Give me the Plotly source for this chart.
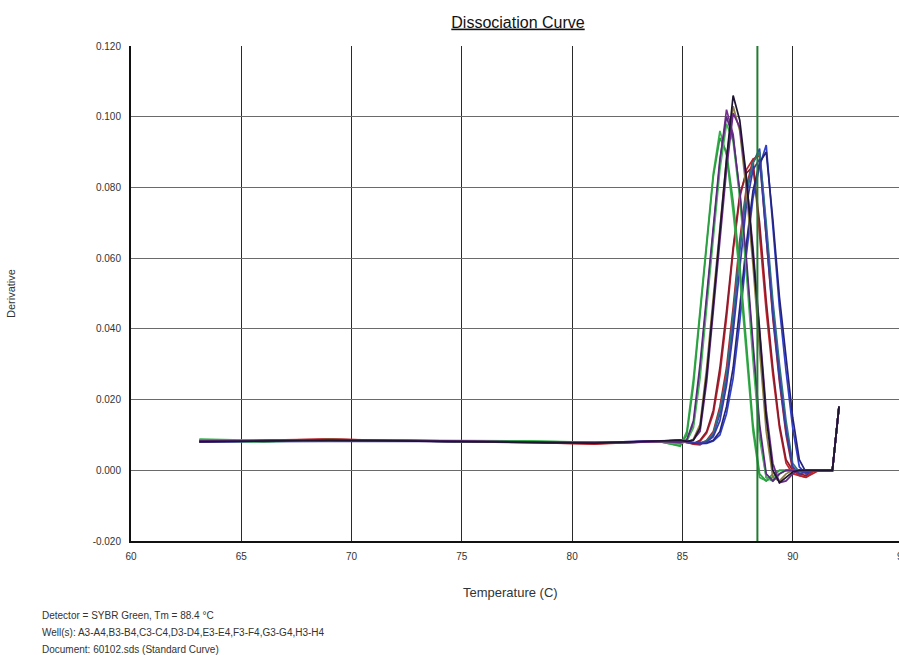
import plotly.graph_objects as go

# ---------------- data ----------------
temps_base = [63.1, 66.0, 69.0, 72.0, 75.0, 78.0, 81.0, 84.0]
temps_melt = [84.9, 85.2, 85.5, 85.8, 86.1, 86.4, 86.7, 87.0, 87.3, 87.6,
              87.9, 88.2, 88.5, 88.8, 89.1, 89.4, 89.7, 90.0, 90.3, 90.6,
              90.9, 91.2, 91.5, 91.8, 92.1]
temperature = temps_base + temps_melt

wells = ["E3", "E4", "F3", "F4", "G3", "G4", "H3", "H4",
         "A3", "A4", "B3", "B4", "C3", "D3", "D4", "C4"]

a3 = [0.0088, 0.0084, 0.0086, 0.0085, 0.0082, 0.0083, 0.0079, 0.0081,
      0.0068, 0.011, 0.026, 0.046, 0.066, 0.084, 0.096, 0.089, 0.073, 0.055,
      0.033, 0.011, -0.002, -0.003, -0.001, 0.0, 0.0, 0.0, 0.0, 0.0,
      0.0, 0.0, 0.0, 0.0, 0.018]
a4 = [0.0086, 0.0082, 0.0087, 0.0083, 0.0081, 0.0081, 0.0078, 0.0080,
      0.0070, 0.010, 0.024, 0.044, 0.064, 0.083, 0.094, 0.090, 0.076, 0.058,
      0.036, 0.013, -0.001, -0.003, -0.002, 0.0, 0.0, 0.0, 0.0, 0.0,
      0.0, 0.0, 0.0, 0.0, 0.018]
b3 = [0.0082, 0.0084, 0.0085, 0.0084, 0.0083, 0.0080, 0.0077, 0.0082,
      0.0080, 0.0085, 0.013, 0.028, 0.048, 0.068, 0.087, 0.102, 0.095, 0.078,
      0.058, 0.034, 0.011, -0.002, -0.003, -0.001, 0.0, 0.0, 0.0, 0.0,
      0.0, 0.0, 0.0, 0.0, 0.018]
b4 = [0.0085, 0.0080, 0.0086, 0.0086, 0.0082, 0.0082, 0.0079, 0.0080,
      0.0075, 0.0082, 0.012, 0.026, 0.046, 0.066, 0.085, 0.098, 0.093, 0.077,
      0.056, 0.031, 0.009, -0.002, -0.003, -0.001, 0.0, 0.0, 0.0, 0.0,
      0.0, 0.0, 0.0, 0.0, 0.018]
c3 = [0.0083, 0.0083, 0.0087, 0.0084, 0.0081, 0.0080, 0.0078, 0.0081,
      0.0082, 0.0080, 0.0088, 0.013, 0.029, 0.049, 0.069, 0.088, 0.103, 0.096,
      0.079, 0.058, 0.034, 0.011, -0.002, -0.003, -0.001, 0.0, 0.0, 0.0,
      0.0, 0.0, 0.0, 0.0, 0.018]
c4 = [0.0081, 0.0083, 0.0085, 0.0083, 0.0082, 0.0079, 0.0077, 0.0082,
      0.0085, 0.0082, 0.0085, 0.012, 0.027, 0.047, 0.068, 0.088, 0.106, 0.099,
      0.083, 0.062, 0.039, 0.015, 0.0, -0.0035, -0.002, -0.0005, 0.0, 0.0,
      0.0, 0.0, 0.0, 0.0, 0.018]
d3 = [0.0082, 0.0084, 0.0086, 0.0085, 0.0083, 0.0081, 0.0078, 0.0083,
      0.0078, 0.0086, 0.014, 0.030, 0.050, 0.070, 0.088, 0.100, 0.094, 0.079,
      0.060, 0.036, 0.013, -0.001, -0.003, -0.001, 0.0, 0.0, 0.0, 0.0,
      0.0, 0.0, 0.0, 0.0, 0.018]
d4 = [0.0083, 0.0082, 0.0085, 0.0084, 0.0082, 0.0080, 0.0077, 0.0081,
      0.0082, 0.0080, 0.0086, 0.011, 0.025, 0.045, 0.065, 0.085, 0.101, 0.097,
      0.082, 0.063, 0.040, 0.017, 0.002, -0.0035, -0.003, -0.001, 0.0, 0.0,
      0.0, 0.0, 0.0, 0.0, 0.018]
e3 = [0.0082, 0.0085, 0.0088, 0.0084, 0.0082, 0.0079, 0.0074, 0.0082,
      0.0085, 0.0080, 0.0075, 0.0082, 0.0105, 0.016, 0.027, 0.043, 0.062, 0.077,
      0.085, 0.088, 0.067, 0.045, 0.027, 0.012, 0.002, -0.001, -0.0015, -0.002,
      -0.0005, 0.0, 0.0, 0.0, 0.018]
e4 = [0.0081, 0.0083, 0.0087, 0.0085, 0.0081, 0.0080, 0.0076, 0.0081,
      0.0082, 0.0078, 0.0076, 0.0085, 0.011, 0.017, 0.029, 0.045, 0.063, 0.078,
      0.084, 0.086, 0.070, 0.048, 0.029, 0.013, 0.003, 0.0, -0.001, -0.0015,
      0.0, 0.0, 0.0, 0.0, 0.018]
f3 = [0.0082, 0.0083, 0.0084, 0.0083, 0.0082, 0.0080, 0.0078, 0.0082,
      0.0085, 0.0080, 0.0076, 0.0076, 0.0082, 0.010, 0.016, 0.026, 0.042, 0.062,
      0.078, 0.087, 0.091, 0.068, 0.046, 0.028, 0.012, 0.001, -0.001, -0.0005,
      0.0, 0.0, 0.0, 0.0, 0.018]
f4 = [0.0083, 0.0084, 0.0088, 0.0083, 0.0081, 0.0079, 0.0075, 0.0082,
      0.0084, 0.0079, 0.0074, 0.0072, 0.0085, 0.011, 0.018, 0.029, 0.046, 0.065,
      0.080, 0.088, 0.089, 0.066, 0.043, 0.025, 0.010, 0.0, -0.0015, -0.002,
      -0.001, 0.0, 0.0, 0.0, 0.018]
g3 = [0.0082, 0.0082, 0.0085, 0.0084, 0.0082, 0.0080, 0.0078, 0.0082,
      0.0083, 0.0080, 0.0077, 0.0078, 0.0083, 0.0105, 0.017, 0.027, 0.044, 0.063,
      0.079, 0.087, 0.090, 0.070, 0.048, 0.030, 0.014, 0.002, -0.0005, 0.0,
      0.0, 0.0, 0.0, 0.0, 0.018]
g4 = [0.0081, 0.0083, 0.0084, 0.0083, 0.0082, 0.0080, 0.0078, 0.0083,
      0.0085, 0.0082, 0.0078, 0.0075, 0.0076, 0.0083, 0.010, 0.016, 0.026, 0.042,
      0.061, 0.077, 0.086, 0.092, 0.069, 0.046, 0.028, 0.012, 0.001, -0.001,
      0.0, 0.0, 0.0, 0.0, 0.018]
h3 = [0.0081, 0.0082, 0.0083, 0.0083, 0.0082, 0.0080, 0.0078, 0.0082,
      0.0084, 0.0081, 0.0077, 0.0076, 0.0078, 0.0085, 0.011, 0.018, 0.029, 0.046,
      0.064, 0.079, 0.087, 0.090, 0.071, 0.049, 0.031, 0.015, 0.003, -0.0005,
      0.0, 0.0, 0.0, 0.0, 0.018]
h4 = [0.0082, 0.0082, 0.0084, 0.0083, 0.0082, 0.0080, 0.0078, 0.0082,
      0.0085, 0.0080, 0.0078, 0.0077, 0.0080, 0.0095, 0.014, 0.024, 0.039, 0.058,
      0.075, 0.085, 0.088, 0.066, 0.044, 0.026, 0.011, 0.001, -0.001, -0.0005,
      0.0, 0.0, 0.0, 0.0, 0.018]

series = {"A3": a3, "A4": a4, "B3": b3, "B4": b4, "C3": c3, "C4": c4,
          "D3": d3, "D4": d4, "E3": e3, "E4": e4, "F3": f3, "F4": f4,
          "G3": g3, "G4": g4, "H3": h3, "H4": h4}

well_colors = {"A3": "#35b04a", "A4": "#2e9e43", "B3": "#75308f", "B4": "#3fb852",
               "C3": "#8c7c45", "C4": "#1d1430", "D3": "#5a2a7e", "D4": "#6b2a88",
               "E3": "#c4262e", "E4": "#8b1c2c", "F3": "#2e3fd0", "F4": "#b3232b",
               "G3": "#2d7480", "G4": "#3140c8", "H3": "#25237a", "H4": "#3a3aa8"}

tm = 88.4
x_ticks = [60, 65, 70, 75, 80, 85, 90]
y_ticks = [-0.020, 0.000, 0.020, 0.040, 0.060, 0.080, 0.100, 0.120]

title_text = "Dissociation Curve"
x_title = "Temperature (C)"
y_title = "Derivative"
footer = ["Detector = SYBR Green, Tm = 88.4 °C",
          "Well(s): A3-A4,B3-B4,C3-C4,D3-D4,E3-E4,F3-F4,G3-G4,H3-H4",
          "Document: 60102.sds (Standard Curve)"]

# ---------------- figure ----------------
FONT = "Liberation Sans, Arial, sans-serif"
fig = go.Figure()
for w in wells:
    fig.add_trace(go.Scatter(x=temperature, y=series[w], mode="lines",
                             line=dict(color=well_colors[w], width=1.7),
                             name=w, showlegend=False))

fig.add_shape(type="line", xref="x", yref="paper", x0=tm, x1=tm, y0=0, y1=1,
              line=dict(color="#237a33", width=2), layer="above")

W, H = 899, 655
# plot area in window pixels: x 131..899, y 46..541
L, R, T, B = 131, 0, 46, 655 - 541
pw, ph = W - L - R, H - T - B

def px(xp):
    return (xp - L) / pw

def py(yp):
    return (H - B - yp) / ph

fig.update_layout(
    width=W, height=H,
    margin=dict(l=L, r=R, t=T, b=B, autoexpand=False),
    paper_bgcolor="white", plot_bgcolor="white",
    font=dict(family=FONT, color="#333", size=10),
    title=dict(text="<u>" + title_text + "</u>", x=518 / W, xanchor="center",
               y=1 - 22 / H, yanchor="middle",
               font=dict(size=16, color="#111", family=FONT)),
    xaxis=dict(range=[60, 94.82], tickvals=x_ticks, ticktext=[str(v) for v in x_ticks],
               showgrid=True, gridcolor="#2a2a2a", gridwidth=1,
               showline=True, linecolor="#111", linewidth=2,
               zeroline=False, ticks="", ticklabelstandoff=5,
               tickfont=dict(size=10, color="#333")),
    yaxis=dict(range=[-0.020, 0.120], tickvals=y_ticks,
               ticktext=["%.3f" % v for v in y_ticks],
               showgrid=True, gridcolor="#6a6a6a", gridwidth=1,
               showline=True, linecolor="#111", linewidth=2,
               zeroline=False, ticks="", ticklabelstandoff=6,
               tickfont=dict(size=10, color="#333")),
)

ann = []
ann.append(dict(text="95", xref="paper", yref="paper", x=px(903), y=0,
                xanchor="center", yanchor="top", yshift=-8, showarrow=False,
                font=dict(size=10, color="#333", family=FONT)))
ann.append(dict(text=x_title, xref="paper", yref="paper", x=px(510), y=py(592),
                xanchor="center", yanchor="middle", showarrow=False,
                font=dict(size=13, color="#333", family=FONT)))
ann.append(dict(text=y_title, xref="paper", yref="paper", x=px(11), y=py(294),
                xanchor="center", yanchor="middle", textangle=-90, showarrow=False,
                font=dict(size=11, color="#333", family=FONT)))
for i, line in enumerate(footer):
    ann.append(dict(text=line, xref="paper", yref="paper", x=px(40), y=py(615 + 17 * i),
                    xanchor="left", yanchor="middle", showarrow=False,
                    font=dict(size=10, color="#333", family=FONT)))
fig.update_layout(annotations=ann)

fig.write_html("out.html",
               config={"displayModeBar": False},
               post_script="document.body.style.margin='0';"
                           "document.body.style.overflow='hidden';")
